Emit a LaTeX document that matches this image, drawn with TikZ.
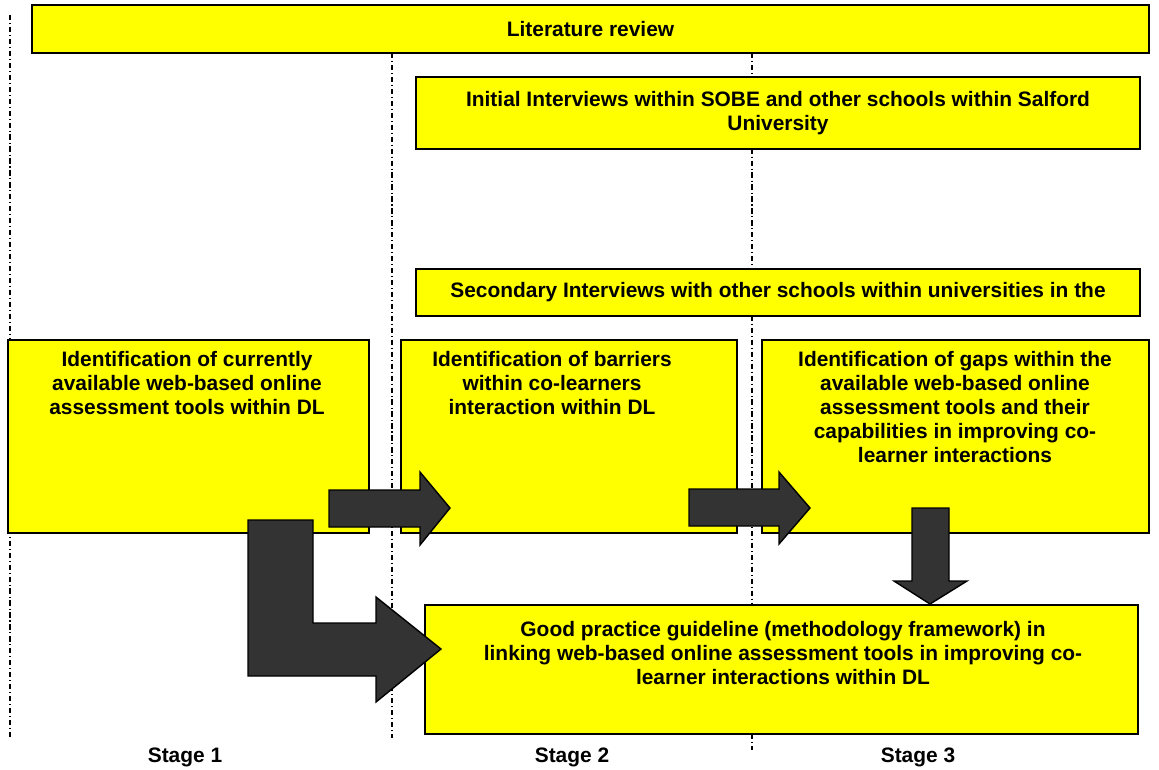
\documentclass[tikz,border=0pt]{standalone}
\usepackage{fontspec}
\setmainfont{Liberation Sans}
\usepackage{xcolor}
\usepackage{tikz}
\definecolor{boxyellow}{RGB}{255, 255, 0}
\definecolor{arrowgray}{RGB}{51, 51, 51}
\usetikzlibrary{positioning}

\begin{document}
\begin{tikzpicture}[
        x=0.02cm, y=-0.02cm,
        every node/.style={font=\fontsize{11.9pt}{13.6pt}\selectfont\bfseries},
        box/.style={rectangle, draw=black, line width=0.9pt, fill=boxyellow, inner sep=0pt},
        boxtext/.style={align=center, inner sep=0pt, anchor=north},
        stageline/.style={line width=0.6pt, dash pattern=on 3pt off 1.6pt on 0.6pt off 1.6pt},
        blockarrow/.style={draw=black, line width=0.8pt, fill=arrowgray, line join=miter}
    ]

        \useasboundingbox (0,0) rectangle (1159,769);

        \coordinate (s1top) at (10,15);
        \coordinate (s1bot) at (10,738);
        \coordinate (s2top) at (392,53);
        \coordinate (s2bot) at (392,738);
        \coordinate (s3top) at (752,53);
        \coordinate (s3bot) at (752,750);
        \draw[stageline] (s1top) -- (s1bot);
        \draw[stageline] (s2top) -- (s2bot);
        \draw[stageline] (s3top) -- (s3bot);

        \node[box, minimum width=22.34cm, minimum height=0.96cm] (litreview) at (590.5,29) {Literature review};
        \node[box, minimum width=14.48cm, minimum height=1.44cm, align=center] (initial) at (778,113) {Initial Interviews within SOBE and other schools within Salford\\University};
        \node[box, minimum width=14.48cm, minimum height=0.94cm] (secondary) at (778,292.5) {Secondary Interviews with other schools within universities in the};

        \node[box, minimum width=7.22cm, minimum height=3.86cm] (tools) at (188.5,436.5) {};
        \node[box, minimum width=6.72cm, minimum height=3.86cm] (barriers) at (569,436.5) {};
        \node[box, minimum width=7.74cm, minimum height=3.86cm] (gaps) at (955.5,436.5) {};
        \node[box, minimum width=14.26cm, minimum height=2.58cm] (guideline) at (781.5,669.5) {};

        \node[boxtext] (toolstext) at (187,351) {Identification of currently\\available web-based online\\assessment tools within DL};
        \node[boxtext] (barrierstext) at (552,351) {Identification of barriers\\within co-learners\\interaction within DL};
        \node[boxtext] (gapstext) at (955,351) {Identification of gaps within the\\available web-based online\\assessment tools and their\\capabilities in improving co-\\learner interactions};
        \node[boxtext] (guidelinetext) at (783,621) {Good practice guideline (methodology framework) in\\linking web-based online assessment tools in improving co-\\learner interactions within DL};

        \draw[blockarrow] (329,490) -- (420,490) -- (420,472) -- (450,508) -- (420,545) -- (420,527) -- (329,527) -- cycle;
        \draw[blockarrow] (689,489) -- (779,489) -- (779,472) -- (810,508) -- (779,544) -- (779,526) -- (689,526) -- cycle;
        \draw[blockarrow] (912,508) -- (949,508) -- (949,581) -- (967,581) -- (930,604) -- (894,581) -- (912,581) -- cycle;
        \draw[blockarrow] (248,520) -- (313,520) -- (313,623) -- (376,623) -- (376,597) -- (441,649) -- (376,702) -- (376,676) -- (248,676) -- cycle;

        \node (stage1) at (185,757) {Stage 1};
        \node (stage2) at (572,757) {Stage 2};
        \node (stage3) at (918,757) {Stage 3};

    \end{tikzpicture}
\end{document}
